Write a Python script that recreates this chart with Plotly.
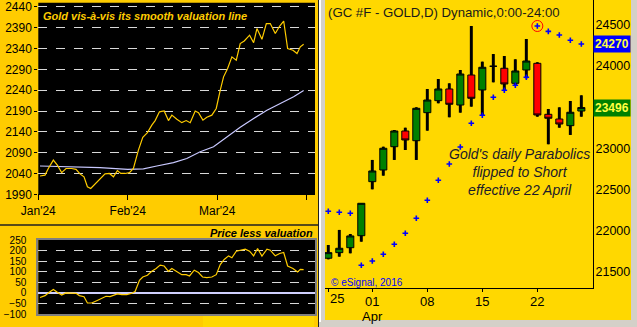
import plotly.graph_objects as go

W, H = 637, 327
FONT = "Arial, Liberation Sans, sans-serif"

# ---------------- data: left panels (x in months from Jan'24) ----------------
month_ticks = [0, 1, 2, 3]
month_labels = ["Jan'24", "Feb'24", "Mar'24", ""]
top_ticks = [1990, 2040, 2090, 2140, 2190, 2240, 2290, 2340, 2390, 2440]
bot_ticks = [-100, -50, 0, 50, 100, 150, 200, 250]

gold_x = [0.019, 0.075, 0.112, 0.168, 0.213, 0.261, 0.310, 0.373, 0.422, 0.466,
          0.511, 0.549, 0.586, 0.634, 0.690, 0.746, 0.795, 0.840, 0.884, 0.922,
          0.970, 1.019, 1.063, 1.119, 1.168, 1.220, 1.269, 1.306, 1.354, 1.407,
          1.455, 1.493, 1.549, 1.604, 1.653, 1.698, 1.754, 1.791, 1.840, 1.884,
          1.940, 1.989, 2.034, 2.071, 2.116, 2.164, 2.213, 2.257, 2.302, 2.362,
          2.407, 2.444, 2.500, 2.549, 2.593, 2.649, 2.698, 2.743, 2.787, 2.847,
          2.892, 2.929, 2.966]
gold_y = [2034, 2036, 2052, 2072, 2060, 2042, 2052, 2052, 2050, 2039,
          2032, 2008, 2004, 2014, 2026, 2039, 2040, 2032, 2047, 2040,
          2040, 2042, 2052, 2096, 2127, 2138, 2156, 2167, 2188, 2190,
          2167, 2180, 2170, 2162, 2167, 2162, 2190, 2186, 2168, 2175,
          2180, 2196, 2240, 2272, 2292, 2320, 2312, 2352, 2358, 2372,
          2354, 2388, 2362, 2400, 2400, 2376, 2394, 2406, 2340, 2336,
          2328, 2344, 2350]

val_x = [0.019, 0.317, 0.690, 1.000, 1.175, 1.325, 1.511, 1.660, 1.810, 1.959,
         2.108, 2.257, 2.407, 2.556, 2.705, 2.854, 2.966]
val_y = [2058, 2056, 2054, 2050, 2051, 2058, 2066, 2076, 2092, 2104,
         2128, 2151, 2172, 2192, 2208, 2224, 2239]

diff_x = [0.019, 0.075, 0.123, 0.168, 0.213, 0.261, 0.310, 0.373, 0.422, 0.459,
          0.511, 0.549, 0.597, 0.653, 0.709, 0.757, 0.802, 0.840, 0.884, 0.933,
          0.989, 1.045, 1.082, 1.131, 1.168, 1.220, 1.269, 1.317, 1.362, 1.407,
          1.455, 1.493, 1.549, 1.604, 1.653, 1.690, 1.743, 1.791, 1.836, 1.884,
          1.940, 1.989, 2.034, 2.078, 2.127, 2.164, 2.213, 2.257, 2.313, 2.362,
          2.407, 2.451, 2.500, 2.556, 2.593, 2.649, 2.698, 2.743, 2.787, 2.847,
          2.899, 2.929, 2.966]
diff_y = [-22, -13, 3, 16, 3, -10, 0, 0, -2, -13,
          -18, -48, -48, -37, -24, -16, -18, -13, -5, -8,
          -8, -2, 6, 59, 75, 83, 102, 115, 131, 127,
          102, 115, 102, 86, 86, 80, 107, 96, 75, 72,
          75, 86, 134, 158, 175, 166, 197, 202, 207, 197,
          175, 210, 174, 207, 202, 175, 186, 191, 127, 115,
          99, 111, 110]

# ---------------- data: right panel (daily candles, GC #F) ----------------
candle_dates = ["03-25", "03-26", "03-27", "03-28", "04-01", "04-02", "04-03", "04-04",
                "04-05", "04-08", "04-09", "04-10", "04-11", "04-12", "04-15", "04-16",
                "04-17", "04-18", "04-19", "04-22", "04-23", "04-24", "04-25", "04-26"]
opens  = [21664, 21732, 21792, 21938, 22595, 22737, 23020, 23211, 23093, 23434, 23580, 23722,
          23527, 23892, 23710, 23998, 23974, 23791, 23953, 24034, 23414, 23357, 23276, 23454]
highs  = [21825, 22008, 21959, 22332, 22859, 23020, 23223, 23251, 23499, 23722, 23843, 23791,
          23953, 24488, 24054, 24147, 24123, 24083, 24330, 24047, 23479, 23499, 23576, 23645]
lows   = [21651, 21683, 21724, 21865, 22502, 22668, 22859, 22980, 22859, 23215, 23548, 23378,
          23434, 23507, 23397, 23803, 23701, 23758, 23852, 23385, 23050, 23251, 23163, 23385]
closes = [21732, 21785, 21935, 22332, 22725, 23001, 23211, 23102, 23487, 23588, 23722, 23536,
          23904, 23609, 23986, 23998, 23783, 23941, 24062, 23406, 23366, 23296, 23439, 23496]
sar    = [22235, 22223, 22211, 21578, 21631, 21712, 21834, 21967, 22150, 22369, 22612, 22810,
          23017, 23305, 23402, 23621, 23706, 23767, 23864, 24488, 24423, 24378, 24314, 24269]
flip_date = "04-22"
price_ticks = [21500, 22000, 22500, 23000, 23500, 24000, 24500]
price_labels = ["21500", "22000", "22500", "23000", "", "24000", "24500"]
date_tick_dates = ["03-25", "04-01", "04-08", "04-15", "04-22"]
date_tick_text = ["", "01", "08", "15", "22"]
last_sar_label = 24270
last_close_label = 23496

# ---------------- helpers ----------------
def px(x):
    return x / W

def py(y):
    return 1 - y / H

idx = list(range(len(candle_dates)))

fig = go.Figure()

# top-left
fig.add_trace(go.Scatter(x=val_x, y=val_y, mode="lines", line=dict(color="#C8C8FF", width=1.2),
                         xaxis="x", yaxis="y", hoverinfo="skip"))
fig.add_trace(go.Scatter(x=gold_x, y=gold_y, mode="lines", line=dict(color="#FFCC00", width=1.2),
                         xaxis="x", yaxis="y", hoverinfo="skip"))
# bottom-left
fig.add_trace(go.Scatter(x=diff_x, y=diff_y, mode="lines", line=dict(color="#FFCC00", width=1.2),
                         xaxis="x2", yaxis="y2", hoverinfo="skip"))

# right: thick wicks (bar layer sits below the candlestick bodies)
fig.add_trace(go.Bar(x=idx, y=[h - l for h, l in zip(highs, lows)], base=lows, width=0.27,
                     marker=dict(color="black", line_width=0), xaxis="x3", yaxis="y3",
                     hoverinfo="skip"))
fig.add_trace(go.Candlestick(x=idx, open=opens, high=highs, low=lows, close=closes,
                             increasing=dict(fillcolor="#008000", line=dict(color="black", width=1)),
                             decreasing=dict(fillcolor="#FF0000", line=dict(color="black", width=1)),
                             whiskerwidth=0, xaxis="x3", yaxis="y3", hoverinfo="skip"))
fig.add_trace(go.Scatter(x=idx, y=sar, mode="markers",
                         marker=dict(symbol="cross-thin-open", size=4, line=dict(color="#0000FF", width=1.6),
                                     color="#0000FF"),
                         xaxis="x3", yaxis="y3", hoverinfo="skip"))
fi = candle_dates.index(flip_date)
fig.add_trace(go.Scatter(x=[fi], y=[sar[fi]], mode="markers",
                         marker=dict(symbol="circle-open", size=11, line=dict(color="#FF0000", width=1),
                                     color="#FF0000"),
                         xaxis="x3", yaxis="y3", hoverinfo="skip"))

shapes = [
    # right frame
    dict(type="rect", xref="paper", yref="paper", x0=px(318.5), x1=1, y0=0, y1=1,
         fillcolor="#D4D0C8", line_width=0, layer="below"),
    dict(type="rect", xref="paper", yref="paper", x0=px(319), x1=px(321), y0=py(322), y1=1,
         fillcolor="#FFFFFF", line_width=0, layer="below"),
    dict(type="rect", xref="paper", yref="paper", x0=px(325), x1=px(631), y0=py(320), y1=1,
         fillcolor="#FFD800", line_width=0, layer="below"),
    dict(type="line", xref="paper", yref="paper", x0=px(318.5), x1=px(318.5), y0=0, y1=1,
         line=dict(color="#202020", width=1), layer="below"),
    # left black plot areas
    dict(type="rect", xref="paper", yref="paper", x0=px(38.3), x1=px(315), y0=py(194.3), y1=py(2.7),
         fillcolor="black", line_width=0, layer="below"),
    dict(type="rect", xref="paper", yref="paper", x0=px(38.3), x1=px(315), y0=py(314), y1=py(240),
         fillcolor="black", line_width=0, layer="below"),
    # separator
    dict(type="line", xref="paper", yref="paper", x0=0, x1=px(318), y0=py(225), y1=py(225),
         line=dict(color="#202020", width=1.5), layer="below"),
    # lighter patch bottom
    dict(type="rect", xref="paper", yref="paper", x0=px(203), x1=px(314), y0=0, y1=py(315),
         fillcolor="#FFD800", line_width=0, layer="below"),
]

annotations = [
    dict(text="<b><i>Gold vis-à-vis its smooth valuation line</i></b>", xref="paper", yref="paper",
         x=px(41), y=py(16), xanchor="left", yanchor="middle", showarrow=False,
         font=dict(family=FONT, size=11, color="#FFCC00")),
    dict(text="<b><i>Price less valuation</i></b>", xref="paper", yref="paper",
         x=px(315), y=py(233), xanchor="right", yanchor="middle", showarrow=False,
         font=dict(family=FONT, size=11, color="black")),
    dict(text="(GC #F - GOLD,D) Dynamic,0:00-24:00", xref="paper", yref="paper",
         x=px(326), y=py(12), xanchor="left", yanchor="middle", showarrow=False,
         font=dict(family=FONT, size=13.2, color="#1A1A1A")),
    dict(text="<i>Gold's daily Parabolics<br>flipped to Short<br>effective 22 April</i>",
         xref="paper", yref="paper", x=px(519), y=py(172), xanchor="center", yanchor="middle",
         showarrow=False, font=dict(family=FONT, size=14, color="#1A1A2A")),
    dict(text="© eSignal, 2016", xref="paper", yref="paper", x=px(329), y=py(282),
         xanchor="left", yanchor="middle", showarrow=False,
         font=dict(family=FONT, size=10, color="#0000FF")),
    dict(text="25", xref="x3", yref="paper", x=idx[0], y=py(289), xanchor="left", yanchor="top",
         showarrow=False, font=dict(family=FONT, size=13, color="black")),
    dict(text="Apr", xref="x3", yref="paper", x=candle_dates.index("04-01"), y=py(316),
         xanchor="center", yanchor="middle", showarrow=False,
         font=dict(family=FONT, size=13, color="black")),
    dict(text="<b>%d</b>" % last_sar_label, xref="paper", yref="y3", x=px(593), y=last_sar_label,
         xanchor="left", yanchor="middle", showarrow=False, bgcolor="#0000FF", borderpad=1,
         font=dict(family=FONT, size=12, color="#FFFF40")),
    dict(text="<b>%d</b>" % last_close_label, xref="paper", yref="y3", x=px(593), y=last_close_label,
         xanchor="left", yanchor="middle", showarrow=False, bgcolor="#008000", borderpad=1,
         font=dict(family=FONT, size=12, color="#FFFF40")),
]

grid_common = dict(showgrid=True, gridcolor="#D8D8D8", griddash="dash", gridwidth=1)

fig.update_layout(
    width=W, height=H, margin=dict(l=0, r=0, t=0, b=0, pad=0, autoexpand=False),
    paper_bgcolor="#FFCC00", plot_bgcolor="rgba(0,0,0,0)",
    showlegend=False, shapes=shapes, annotations=annotations,
    boxgap=0.2, boxgroupgap=0.2, barmode="overlay",
    font=dict(family=FONT, color="black"),
    xaxis=dict(domain=[px(38.3), px(315)], range=[0, 3.093], tickvals=month_ticks, ticktext=month_labels,
               showgrid=False, zeroline=False, showline=True, linecolor="black", automargin=False,
               ticks="outside", ticklen=5, tickcolor="black", tickfont=dict(size=12), anchor="y"),
    yaxis=dict(domain=[py(194.3), py(2.7)], range=[1990, 2450], tickvals=top_ticks, automargin=False,
               zeroline=False, showline=False, ticks="outside", ticklen=3, tickcolor="black",
               tickfont=dict(size=12), anchor="x", **grid_common),
    xaxis2=dict(domain=[px(38.3), px(315)], range=[0, 3.093], showticklabels=False, showgrid=False,
                zeroline=False, showline=True, mirror=True, linecolor="#808080", linewidth=2,
                automargin=False, anchor="y2"),
    yaxis2=dict(domain=[py(314), py(240)], range=[-100, 250], tickvals=bot_ticks,
                zeroline=True, zerolinecolor="#D0D0FF", zerolinewidth=1.5, automargin=False,
                showline=True, mirror=True, linecolor="#808080", linewidth=2,
                ticks="", ticklabelstandoff=8, tickfont=dict(size=10), anchor="x2", **grid_common),
    xaxis3=dict(domain=[px(325), px(593)], range=[-0.3, 24.06], automargin=False,
                tickvals=[candle_dates.index(d) for d in date_tick_dates], ticktext=date_tick_text,
                showgrid=False, zeroline=False, showline=True, linecolor="black", linewidth=1,
                ticks="outside", ticklen=3, tickcolor="black", tickfont=dict(size=13),
                ticklabelstandoff=-2, rangeslider=dict(visible=False), anchor="y3"),
    yaxis3=dict(domain=[py(288), 1], range=[21302, 24804], side="right", automargin=False,
                tickvals=price_ticks, ticktext=price_labels, showgrid=False, zeroline=False,
                showline=True, linecolor="black", linewidth=1, ticks="", ticklabelstandoff=-1,
                tickfont=dict(size=12.5), anchor="x3"),
)

fig.write_html("out.html")
